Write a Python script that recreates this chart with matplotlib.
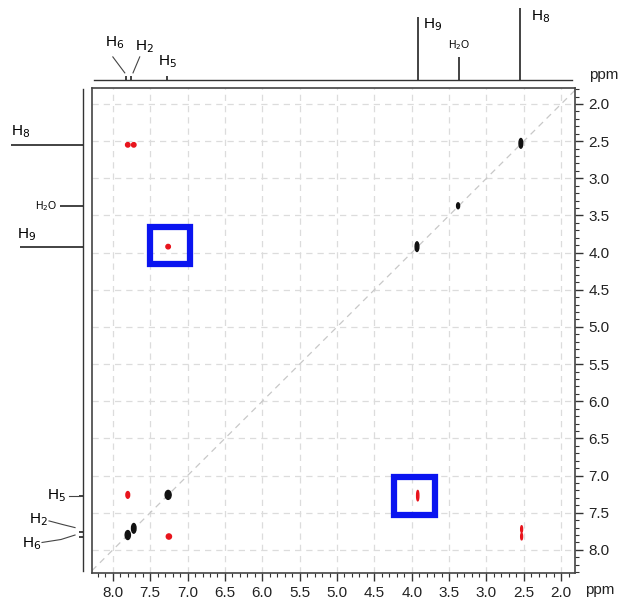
import matplotlib.pyplot as plt
from matplotlib.patches import Ellipse, Rectangle

plt.rcParams['font.family'] = ['Liberation Sans', 'DejaVu Sans']

# 1D projection peaks (ppm, relative height)
proj_ppm = [7.83, 7.76, 7.27, 3.92, 3.37, 2.55]
proj_height = [4, 4, 4, 63, 23, 72]

# 2D peaks: F2 (x), F1 (y), width, height (ppm)
diag_x = [2.54, 3.38, 3.93, 7.26, 7.72, 7.80]
diag_y = [2.53, 3.37, 3.92, 7.26, 7.71, 7.80]
diag_w = [0.05, 0.04, 0.05, 0.08, 0.06, 0.07]
diag_h = [0.13, 0.08, 0.13, 0.12, 0.13, 0.12]

cross_x = [7.80, 7.72, 7.26, 3.92, 2.53, 2.53, 7.80, 7.25]
cross_y = [2.55, 2.55, 3.92, 7.27, 7.72, 7.82, 7.26, 7.82]
cross_w = [0.06, 0.06, 0.06, 0.03, 0.025, 0.025, 0.05, 0.07]
cross_h = [0.06, 0.06, 0.06, 0.14, 0.09, 0.09, 0.09, 0.07]

# highlighted boxes (x0, x1, y0, y1) in ppm
boxes = [(7.50, 6.97, 3.66, 4.15), (4.24, 3.69, 7.02, 7.53)]

xmin, xmax = 8.28, 1.815
ymin, ymax = 8.31, 1.785

fig = plt.figure(figsize=(6.21, 6.05), dpi=100)
ax = fig.add_axes([0.148, 0.053, 0.778, 0.8016])
top = fig.add_axes([0.148, 0.868, 0.778, 0.132])
left = fig.add_axes([0.0, 0.053, 0.1337, 0.8016])

# main 2D panel
ax.set_xlim(xmin, xmax)
ax.set_ylim(ymin, ymax)
ticks = [8.0 - 0.5 * i for i in range(13)]
ax.set_xticks(ticks)
ax.set_yticks(ticks)
ax.set_xticklabels(['%.1f' % t for t in ticks])
ax.set_yticklabels(['%.1f' % t for t in ticks])
ax.set_xticks([8.2 - 0.1 * i for i in range(64)], minor=True)
ax.set_yticks([1.8 + 0.1 * i for i in range(66)], minor=True)
ax.yaxis.tick_right()
ax.tick_params(which='major', direction='out', length=6, width=1, labelsize=11, colors='#333333', labelcolor='#222222')
ax.tick_params(which='minor', direction='out', length=3, width=0.8, colors='#333333')
for s in ax.spines.values():
    s.set_color('#444444')
    s.set_linewidth(1.2)
for t in ticks:
    ax.axvline(t, color='#dcdcdc', lw=0.9, ls=(0, (5, 4)), zorder=0)
    ax.axhline(t, color='#dcdcdc', lw=0.9, ls=(0, (5, 4)), zorder=0)
ax.plot([xmin, xmax], [xmin, xmax], color='#c8c8c8', lw=0.9, ls=(0, (5, 4)), zorder=1)

for x, y, w, h in zip(diag_x, diag_y, diag_w, diag_h):
    ax.add_patch(Ellipse((x, y), w, h, color='#111111', zorder=3))
for x, y, w, h in zip(cross_x, cross_y, cross_w, cross_h):
    ax.add_patch(Ellipse((x, y), w, h, color='#e8141c', zorder=3))
for x0, x1, y0, y1 in boxes:
    ax.add_patch(Rectangle((x1, y0), x0 - x1, y1 - y0, fill=False,
                           edgecolor='#0a14f0', lw=4.5, zorder=4))

ax.text(1.02, -0.02, 'ppm', transform=ax.transAxes, fontsize=11, va='top', ha='left', color='#222222')

# top projection
top.set_xlim(xmin, xmax)
top.set_ylim(0, 80)
top.axis('off')
top.plot([8.25, 1.85], [0, 0], color='#333333', lw=1, clip_on=False)
top.vlines(proj_ppm, 0, proj_height, color='#222222', lw=1.2, clip_on=False)
top.text(1.03, 0.06, 'ppm', transform=top.transAxes, fontsize=11, va='center', ha='left', color='#222222')
top.text(7.97, 37, 'H$_6$', fontsize=11, ha='center', va='center')
top.text(7.58, 33, 'H$_2$', fontsize=11, ha='center', va='center')
top.text(7.27, 18, 'H$_5$', fontsize=11, ha='center', va='center')
top.text(3.72, 55, 'H$_9$', fontsize=11, ha='center', va='center')
top.text(3.37, 35, 'H$_2$O', fontsize=7.5, ha='center', va='center')
top.text(2.28, 63, 'H$_8$', fontsize=11, ha='center', va='center')
top.plot([8.00, 7.84], [23, 7], color='#444444', lw=0.8)
top.plot([7.64, 7.73], [23, 7], color='#444444', lw=0.8)

# left projection
left.set_ylim(ymin, ymax)
left.set_xlim(83, 0)
left.axis('off')
left.plot([0, 0], [8.28, 1.8], color='#333333', lw=1, clip_on=False)
left.hlines(proj_ppm, 0, proj_height, color='#222222', lw=1.2, clip_on=False)
left.text(62, 2.37, 'H$_8$', fontsize=11, ha='center', va='center')
left.text(26, 3.37, 'H$_2$O', fontsize=7.5, ha='right', va='center')
left.text(56, 3.76, 'H$_9$', fontsize=11, ha='center', va='center')
left.text(17, 7.27, 'H$_5$', fontsize=11, ha='right', va='center')
left.text(35, 7.59, 'H$_2$', fontsize=11, ha='right', va='center')
left.text(42, 7.91, 'H$_6$', fontsize=11, ha='right', va='center')
left.plot([14, 3], [7.27, 7.27], color='#444444', lw=0.8)
left.plot([34, 20, 8], [7.61, 7.66, 7.70], color='#444444', lw=0.8)
left.plot([41, 22, 8], [7.90, 7.86, 7.80], color='#444444', lw=0.8)

plt.savefig('out.png', dpi=100)
